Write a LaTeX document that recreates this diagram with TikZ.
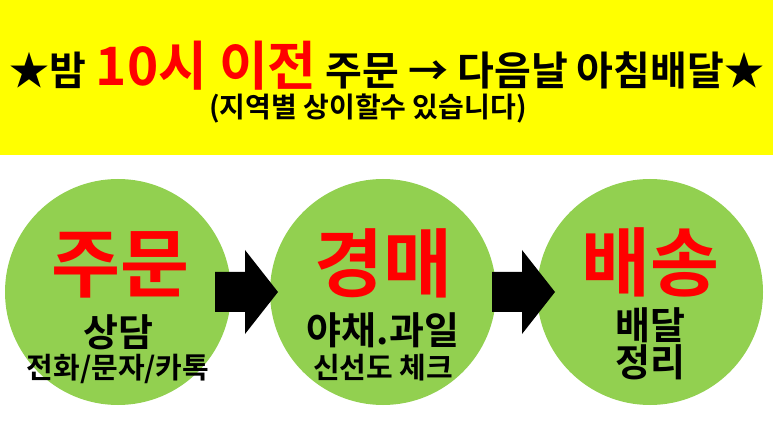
\documentclass[tikz,border=0pt]{standalone}
\usepackage{fontspec}
\setmainfont{Noto Sans CJK KR}[BoldFont={Noto Sans CJK KR Bold}]
\definecolor{band}{HTML}{FFFF00}
\definecolor{leaf}{HTML}{92D050}
\definecolor{hot}{HTML}{FF0000}
\tikzset{
  stage/.style={circle,fill=leaf,minimum size=226pt,inner sep=0pt},
  big/.style={text=hot,font=\fontsize{75}{75}\selectfont\bfseries},
  mid/.style={font=\fontsize{38}{38}\selectfont\bfseries},
  small/.style={font=\fontsize{29}{29}\selectfont\bfseries}
}
\newcommand{\pusharrow}[1]{%
  \fill[black,shift={(#1,292)}] (-30,-20) -- (0,-20) -- (0,-42) -- (33,0)
    -- (0,42) -- (0,20) -- (-30,20) -- cycle;}
\begin{document}
\begin{tikzpicture}[x=1pt,y=-1pt]
\useasboundingbox (0,0) rectangle (773,435);
\fill[band] (0,0) rectangle (773,155);

\node[font=\fontsize{40}{40}\selectfont\bfseries] (head) at (387,66)
  {★밤 {\color{hot}\fontsize{53}{53}\selectfont 10시 이전} 주문 → 다음날 아침배달★};
\node[font=\fontsize{28}{28}\selectfont\bfseries] (note) at (368,109) {(지역별 상이할수 있습니다)};

\node[stage] (order) at (118,292) {};
\node[stage] (bid) at (383,292) {};
\node[stage] (ship) at (650,292) {};

\pusharrow{245}
\pusharrow{522}

\node[big] (t1) at (120,265) {주문};
\node[mid] (s1) at (118,332) {상담};
\node[small] (u1) at (118,369) {전화/문자/카톡};

\node[big] (t2) at (383,263) {경매};
\node[mid] (s2) at (383,330) {야채.과일};
\node[small] (u2) at (383,368) {신선도 체크};

\node[big] (t3) at (650,262) {배송};
\node[mid] (s3) at (650,325) {배달};
\node[mid] (u3) at (650,362) {정리};
\end{tikzpicture}
\end{document}
